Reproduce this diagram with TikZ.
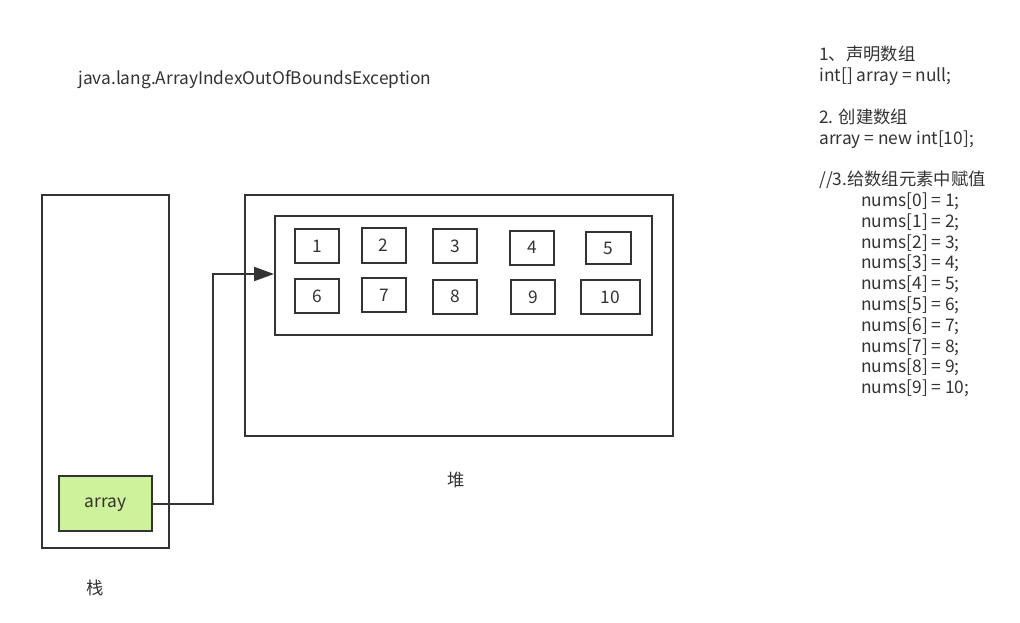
\documentclass[tikz,border=0pt]{standalone}
\usepackage{fontspec}
\setmainfont{Noto Sans CJK SC}
\usetikzlibrary{arrows.meta, positioning}
\definecolor{MemLine}{RGB}{51,51,51}
\definecolor{MemGreen}{RGB}{205,242,154}
\definecolor{MemText}{RGB}{51,51,51}

\begin{document}
\begin{tikzpicture}[
    x=0.75pt, y=-0.75pt,
    region/.style={rectangle, draw=MemLine, line width=1.5pt, inner sep=0pt},
    cell/.style={rectangle, draw=MemLine, line width=1.5pt, minimum width=33pt, minimum height=25.5pt, inner sep=0pt, text=MemText, font=\fontsize{13}{15}\selectfont},
    ref/.style={rectangle, draw=MemLine, line width=1.5pt, fill=MemGreen, minimum width=69.75pt, minimum height=41.25pt, text=MemText, font=\fontsize{13}{15}\selectfont},
    label/.style={text=MemText, inner sep=0pt, font=\fontsize{13}{15}\selectfont},
    arrow/.style={-{Triangle[length=15pt, width=10.5pt]}, line width=1.5pt, color=MemLine}
  ]
    \useasboundingbox (0,0) rectangle (1020,622);

    % stack and heap
    \node[region, minimum width=95.25pt, minimum height=264.75pt] (stack) at (105.5,371.5) {};
    \node[region, minimum width=321pt, minimum height=180.75pt] (heap) at (459,315.5) {};
    \node[region, minimum width=282.75pt, minimum height=89.25pt] (arr) at (463.5,275.5) {};
    \node[ref, text height=9pt] (array) at (105.5,503.5) {array};

    % array cells
    \node[cell] (c1) at (317,246) {1};
    \node[cell, minimum height=26.25pt] (c2) at (383.5,245.5) {2};
    \node[cell] (c3) at (455,246) {3};
    \node[cell] (c4) at (532,247.5) {4};
    \node[cell, minimum width=33.75pt, minimum height=24pt] (c5) at (608.5,248) {5};
    \node[cell] (c6) at (317,296) {6};
    \node[cell] (c7) at (384,295) {7};
    \node[cell] (c8) at (455,296.5) {8};
    \node[cell] (c9) at (533,297) {9};
    \node[cell, minimum width=44.25pt] (c10) at (610.5,297) {10};

    \coordinate (bend) at (213,274);
    \draw[arrow] (array.east) -| (bend) -- (bend -| arr.west);

    % labels
    \node[label] (stacklbl) at (95,588) {栈};
    \node[label] (heaplbl) at (456,480) {堆};
    \node[label, anchor=west] (error) at (78,80) {java.lang.ArrayIndexOutOfBoundsException};
    \node[label, anchor=north west, align=left, font=\fontsize{13}{15.6}\selectfont] (code) at (819,46)
      {1、声明数组\\int[] array = null;\\[15.6pt]
       2. 创建数组\\array = new int[10];\\[15.6pt]
       //3.给数组元素中赋值\\
       \hspace{31.5pt}nums[0] = 1;\\
       \hspace{31.5pt}nums[1] = 2;\\
       \hspace{31.5pt}nums[2] = 3;\\
       \hspace{31.5pt}nums[3] = 4;\\
       \hspace{31.5pt}nums[4] = 5;\\
       \hspace{31.5pt}nums[5] = 6;\\
       \hspace{31.5pt}nums[6] = 7;\\
       \hspace{31.5pt}nums[7] = 8;\\
       \hspace{31.5pt}nums[8] = 9;\\
       \hspace{31.5pt}nums[9] = 10;};
  \end{tikzpicture}
\end{document}
